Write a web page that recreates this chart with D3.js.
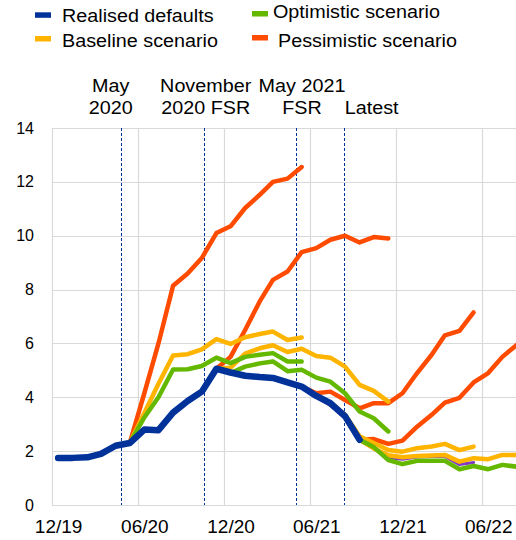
<!DOCTYPE html>
<html>
<head>
<meta charset="utf-8">
<script src="https://cdn.jsdelivr.net/npm/d3@7"></script>
<style>
  body { margin: 0; background: #fff; }
  svg { display: block; font-family: "Liberation Sans", Arial, sans-serif; }
</style>
</head>
<body>
<svg id="chart"></svg>
<script>
// months of the x axis (one point per month)
const months = [
  "2019-12", "2020-01", "2020-02", "2020-03", "2020-04", "2020-05", "2020-06",
  "2020-07", "2020-08", "2020-09", "2020-10", "2020-11", "2020-12", "2021-01",
  "2021-02", "2021-03", "2021-04", "2021-05", "2021-06", "2021-07", "2021-08",
  "2021-09", "2021-10", "2021-11", "2021-12", "2022-01", "2022-02", "2022-03",
  "2022-04", "2022-05", "2022-06", "2022-07", "2022-08"
];
const tickMonths = ["2019-12", "2020-06", "2020-12", "2021-06", "2021-12", "2022-06"];
const yTicks = [0, 2, 4, 6, 8, 10, 12, 14];

// realised defaults, from 2019-12
const realised = [1.75, 1.75, 1.77, 1.9, 2.2, 2.3, 2.8, 2.78, 3.43, 3.86, 4.21, 5.06,
  4.92, 4.8, 4.75, 4.72, 4.55, 4.4, 4.05, 3.78, 3.3, 2.42];

// May 2020 scenarios, from 2020-05
const pessMay20 = [2.3, 4.15, 6.0, 8.14, 8.6, 9.17, 10.1, 10.35, 11.03, 11.52, 12.0, 12.12, 12.55];
const baseMay20 = [2.3, 3.42, 4.5, 5.55, 5.6, 5.78, 6.16, 5.98, 6.23, 6.35, 6.44, 6.13, 6.22];
const optMay20 = [2.3, 3.25, 4.0, 5.03, 5.04, 5.16, 5.47, 5.27, 5.5, 5.58, 5.64, 5.33, 5.33];

// November 2020 FSR scenarios, from 2020-11
const pessNov20 = [5.06, 5.5, 6.5, 7.56, 8.36, 8.67, 9.39, 9.54, 9.85, 10.0, 9.75, 9.95, 9.9];
const baseNov20 = [5.06, 5.1, 5.62, 5.82, 5.93, 5.68, 5.8, 5.53, 5.47, 5.14, 4.46, 4.24, 3.84];
const optNov20 = [5.06, 4.9, 5.14, 5.26, 5.33, 4.97, 5.02, 4.73, 4.58, 4.15, 3.47, 3.22, 2.73];

// May 2021 FSR scenarios, from 2021-05
const pessMay21 = [4.4, 4.15, 4.21, 3.9, 3.59, 3.78, 3.78, 4.15, 4.9, 5.58, 6.3, 6.47, 7.15];
const baseMay21 = [4.4, 4.08, 3.8, 3.35, 2.55, 2.3, 2.04, 1.98, 2.11, 2.17, 2.27, 2.04, 2.17];
const optMay21 = [4.4, 4.0, 3.7, 3.22, 2.4, 2.1, 1.75, 1.7, 1.78, 1.8, 1.8, 1.5, 1.58];

// latest scenarios, from 2021-09
const pessLatest = [2.42, 2.45, 2.27, 2.39, 2.91, 3.35, 3.8, 3.98, 4.55, 4.9, 5.5, 5.95];
const baseLatest = [2.42, 2.1, 1.85, 1.77, 1.82, 1.84, 1.86, 1.61, 1.74, 1.7, 1.86, 1.86];
const optLatest = [2.42, 2.15, 1.67, 1.52, 1.64, 1.64, 1.64, 1.33, 1.45, 1.33, 1.49, 1.42];

// FSR vintage markers
const markerDates = ["2020-04-25", "2020-10-18", "2021-05-02", "2021-08-11"];
const markerLabels = [["May", "2020"], ["November", "2020 FSR"], ["May 2021", "FSR"], ["Latest"]];

const legendNames = ["Realised defaults", "Baseline scenario", "Optimistic scenario", "Pessimistic scenario"];

const colors = {
  realised: "#003299",
  base: "#ffb400",
  opt: "#65b800",
  pess: "#ff4b00",
  purple: "#8139c6",
  grid: "#d9d9d9"
};

const width = 516;
const height = 540;
const margin = { top: 128, right: 0, bottom: 35, left: 52 };
const stretch = 1.13; // labels in the source are a bit wide for their height

const svg = d3.select("#chart").attr("width", width).attr("height", height);

const parseMonth = d3.timeParse("%Y-%m");
const parseDay = d3.timeParse("%Y-%m-%d");
const midMonth = (m) => d3.timeDay.offset(parseMonth(m), 13);

const x = d3
  .scaleTime()
  .domain([parseMonth("2019-12"), parseDay("2022-08-12")])
  .range([margin.left, width - margin.right]);

const y = d3
  .scaleLinear()
  .domain([0, 14])
  .range([height - margin.bottom, margin.top]);

// grid
svg
  .append("g")
  .selectAll("line")
  .data(yTicks)
  .join("line")
  .attr("x1", margin.left)
  .attr("x2", width)
  .attr("y1", (d) => Math.round(y(d)) + 0.5)
  .attr("y2", (d) => Math.round(y(d)) + 0.5)
  .attr("stroke", colors.grid)
  .attr("stroke-width", 1.2);

svg
  .append("g")
  .selectAll("line")
  .data(tickMonths)
  .join("line")
  .attr("x1", (d) => Math.round(x(parseMonth(d))) + 0.5)
  .attr("x2", (d) => Math.round(x(parseMonth(d))) + 0.5)
  .attr("y1", y(14))
  .attr("y2", y(0))
  .attr("stroke", colors.grid)
  .attr("stroke-width", 1.2);

// axes
svg
  .append("g")
  .attr("transform", `translate(${margin.left},0)`)
  .call(d3.axisLeft(y).tickValues(yTicks).tickSize(0).tickPadding(18))
  .call((g) => g.select(".domain").remove())
  .call((g) =>
    g.selectAll("text").style("font-size", "16px").attr("fill", "#000").attr("font-family", null)
  );

svg
  .append("g")
  .attr("transform", `translate(0,${height - margin.bottom})`)
  .call(
    d3
      .axisBottom(x)
      .tickValues(tickMonths.map(midMonth))
      .tickFormat(d3.timeFormat("%m/%y"))
      .tickSize(0)
      .tickPadding(15)
  )
  .call((g) => g.select(".domain").remove())
  .call((g) =>
    g.selectAll("text").style("font-size", "19px").attr("fill", "#000").attr("font-family", null)
  );

// vintage markers
svg
  .append("g")
  .selectAll("line")
  .data(markerDates)
  .join("line")
  .attr("x1", (d) => Math.round(x(parseDay(d))) + 0.5)
  .attr("x2", (d) => Math.round(x(parseDay(d))) + 0.5)
  .attr("y1", y(14))
  .attr("y2", y(0))
  .attr("stroke", colors.realised)
  .attr("stroke-width", 1)
  .attr("stroke-dasharray", "3,2");

const labelShift = [-10, 2, 6, 28]; // label offset from its marker line
const labels = svg
  .append("g")
  .selectAll("text")
  .data(markerLabels)
  .join("text")
  .attr("transform", (d, i) =>
    `translate(${x(parseDay(markerDates[i])) + labelShift[i]},0) scale(${stretch},1)`
  )
  .attr("text-anchor", "middle")
  .style("font-size", "17.5px")
  .attr("fill", "#000");

labels
  .selectAll("tspan")
  .data((d) => (d.length === 1 ? [null, d[0]] : d))
  .join("tspan")
  .attr("x", 0)
  .attr("y", (d, i) => (i === 0 ? 92 : 114.5))
  .text((d) => d || "");

// lines
const line = d3
  .line()
  .x((d) => x(midMonth(d.month)))
  .y((d) => y(d.value));

const toPoints = (values, startMonth) => {
  const start = months.indexOf(startMonth);
  return values.map((v, i) => ({ month: months[start + i], value: v }));
};

const scenarioLines = [
  { values: optMay21, start: "2021-05", color: colors.purple, w: 3 },
  { values: pessMay20, start: "2020-05", color: colors.pess, w: 4.5 },
  { values: pessNov20, start: "2020-11", color: colors.pess, w: 4.5 },
  { values: pessMay21, start: "2021-05", color: colors.pess, w: 4.5 },
  { values: pessLatest, start: "2021-09", color: colors.pess, w: 4.5 },
  { values: baseMay20, start: "2020-05", color: colors.base, w: 4.5 },
  { values: baseNov20, start: "2020-11", color: colors.base, w: 4.5 },
  { values: baseMay21, start: "2021-05", color: colors.base, w: 4.5 },
  { values: baseLatest, start: "2021-09", color: colors.base, w: 4.5 },
  { values: optMay20, start: "2020-05", color: colors.opt, w: 4.5 },
  { values: optNov20, start: "2020-11", color: colors.opt, w: 4.5 },
  { values: optLatest, start: "2021-09", color: colors.opt, w: 4.5 },
  { values: realised, start: "2019-12", color: colors.realised, w: 6.5 }
];

svg
  .append("g")
  .selectAll("path")
  .data(scenarioLines)
  .join("path")
  .attr("fill", "none")
  .attr("stroke", (d) => d.color)
  .attr("stroke-width", (d) => d.w)
  .attr("stroke-linejoin", "round")
  .attr("stroke-linecap", "round")
  .attr("d", (d) => line(toPoints(d.values, d.start)));

// legend
const legendColors = [colors.realised, colors.base, colors.opt, colors.pess];
const legendPos = [
  { sx: 35, sy: 12.3, tx: 62, ty: 22 },
  { sx: 35, sy: 36, tx: 62, ty: 47 },
  { sx: 252, sy: 11, tx: 273, ty: 17.5 },
  { sx: 252, sy: 35, tx: 278, ty: 47 }
];

const legend = svg.append("g");
legend
  .selectAll("rect")
  .data(legendNames)
  .join("rect")
  .attr("x", (d, i) => legendPos[i].sx)
  .attr("y", (d, i) => legendPos[i].sy)
  .attr("width", 16)
  .attr("height", 5.5)
  .attr("fill", (d, i) => legendColors[i]);

legend
  .selectAll("text")
  .data(legendNames)
  .join("text")
  .attr("transform", (d, i) => `translate(${legendPos[i].tx},${legendPos[i].ty}) scale(${stretch},1)`)
  .style("font-size", "17.5px")
  .attr("fill", "#000")
  .text((d) => d);
</script>
</body>
</html>
